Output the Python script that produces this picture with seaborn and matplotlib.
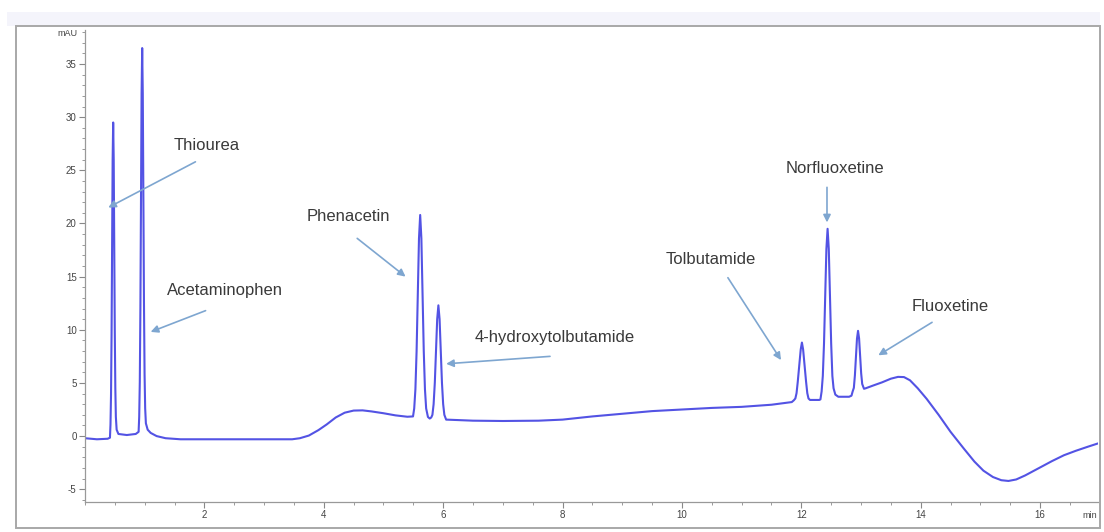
import numpy as np
import matplotlib
matplotlib.use('Agg')
import matplotlib.pyplot as plt
from matplotlib.patches import Rectangle
from matplotlib.ticker import MultipleLocator
import seaborn as sns
import pandas as pd

# trace (time in min, signal in mAU)
time_min = [0.00, 0.20, 0.38,
            0.418, 0.427, 0.436, 0.445, 0.454, 0.463, 0.472, 0.481, 0.49, 0.499, 0.508, 0.517, 0.53, 0.56,
            0.70, 0.85,
            0.898, 0.908, 0.918, 0.928, 0.938, 0.948, 0.958, 0.968, 0.978, 0.988, 0.998, 1.008, 1.02, 1.05,
            1.10, 1.20, 1.35, 1.60,
            2.50, 3.47, 3.60, 3.75, 3.91, 4.05, 4.20, 4.35, 4.50, 4.65, 4.80, 5.00, 5.20, 5.40,
            5.495, 5.515, 5.535, 5.555, 5.575, 5.595, 5.615, 5.635, 5.655, 5.675, 5.695, 5.715, 5.745,
            5.775, 5.80, 5.82, 5.84, 5.86, 5.88, 5.90, 5.92, 5.94, 5.96, 5.98, 6.00, 6.02, 6.05,
            6.50, 7.00, 7.60, 8.00, 8.50, 9.00, 9.50, 10.00, 10.50, 11.00, 11.50, 11.84,
            11.875, 11.90, 11.92, 11.94, 11.965, 11.99, 12.01, 12.03, 12.055, 12.08, 12.10, 12.12, 12.145,
            12.30, 12.32, 12.34, 12.36, 12.38, 12.40, 12.42, 12.44, 12.46, 12.48, 12.50, 12.52, 12.54,
            12.57, 12.62, 12.80,
            12.84, 12.86, 12.88, 12.8975, 12.915, 12.9325, 12.95, 12.9675, 12.985, 13.0025, 13.02, 13.05,
            13.08, 13.20, 13.35, 13.50, 13.62, 13.72, 13.82, 13.95, 14.10, 14.30, 14.50, 14.72, 14.90,
            15.05, 15.21, 15.35, 15.47, 15.60, 15.75, 16.00, 16.20, 16.40, 16.60, 16.80, 16.97]
signal_mau = [-0.20, -0.30, -0.25,
              -0.15, 1.1, 3.9, 9.5, 17.8, 26.0, 29.5, 26.0, 17.8, 9.8, 4.5, 1.8, 0.6, 0.2,
              0.1, 0.2,
              0.4, 1.8, 5.1, 12.0, 22.2, 32.2, 36.5, 32.2, 22.5, 12.5, 5.8, 2.6, 1.2, 0.6,
              0.3, 0.0, -0.2, -0.3,
              -0.3, -0.3, -0.2, 0.05, 0.56, 1.1, 1.75, 2.2, 2.4, 2.42, 2.32, 2.15, 1.95, 1.82,
              1.85, 2.6, 4.4, 8.0, 13.3, 18.6, 20.8, 18.6, 13.3, 8.0, 4.4, 2.6, 1.8,
              1.65, 1.75, 2.0, 3.0, 5.0, 8.0, 11.0, 12.3, 11.0, 8.0, 5.0, 3.0, 2.0, 1.55,
              1.45, 1.42, 1.45, 1.55, 1.85, 2.1, 2.35, 2.5, 2.65, 2.75, 2.95, 3.2,
              3.37, 3.54, 4.04, 5.09, 6.64, 8.15, 8.8, 8.15, 6.64, 5.09, 4.04, 3.54, 3.4,
              3.4, 3.45, 4.2, 5.66, 8.7, 13.2, 17.6, 19.5, 17.6, 13.2, 8.7, 5.66, 4.5,
              3.9, 3.7, 3.7,
              3.8, 4.2, 4.54, 5.71, 7.46, 9.17, 9.9, 9.2, 7.6, 5.9, 4.9, 4.45,
              4.5, 4.75, 5.05, 5.4, 5.57, 5.55, 5.25, 4.5, 3.5, 2.0, 0.4, -1.16, -2.4,
              -3.25, -3.85, -4.15, -4.22, -4.08, -3.7, -2.95, -2.35, -1.8, -1.38, -1.0, -0.69]

# peak labels: name, text anchor (t, mAU), arrow tail, arrow head
peak_names = ['Thiourea', 'Acetaminophen', 'Phenacetin', '4-hydroxytolbutamide',
              'Tolbutamide', 'Norfluoxetine', 'Fluoxetine']
label_pos = [(1.48, 27.3), (1.38, 13.7), (3.72, 20.7), (6.52, 9.3),
             (9.72, 16.65), (11.73, 25.2), (13.84, 12.2)]
arrow_tail = [(1.85, 25.8), (2.02, 11.8), (4.56, 18.6), (7.79, 7.5),
              (10.77, 14.9), (12.43, 23.4), (14.19, 10.7)]
arrow_head = [(0.39, 21.5), (1.10, 9.8), (5.37, 15.0), (6.05, 6.8),
              (11.66, 7.15), (12.43, 20.1), (13.29, 7.6)]

sns.set_style('ticks')
plt.rcParams['font.family'] = ['Liberation Sans', 'DejaVu Sans']
plt.rcParams['axes.unicode_minus'] = False

fig = plt.figure(figsize=(11.04, 5.32), dpi=100)
ax = fig.add_axes([85 / 1104, 1 - 502 / 532, (1098 - 85) / 1104, (502 - 30) / 532])

df = pd.DataFrame({'time': time_min, 'signal': signal_mau})
sns.lineplot(data=df, x='time', y='signal', ax=ax, color='#5353e4', linewidth=1.5,
             estimator=None, sort=False)

ax.set_xlim(0, 16.97)
ax.set_ylim(-6.2, 38.2)
ax.set_xlabel('')
ax.set_ylabel('')

ax.xaxis.set_major_locator(MultipleLocator(2))
ax.xaxis.set_minor_locator(MultipleLocator(0.5))
ax.yaxis.set_major_locator(MultipleLocator(5))
ax.yaxis.set_minor_locator(MultipleLocator(1))
ax.set_xticks([2, 4, 6, 8, 10, 12, 14, 16])
ax.set_yticks([-5, 0, 5, 10, 15, 20, 25, 30, 35])
ax.tick_params(which='major', length=4, width=0.8, color='#888888', labelsize=7,
               labelcolor='#444444', pad=2)
ax.tick_params(which='minor', length=2.2, width=0.7, color='#999999')

for side in ['top', 'right']:
    ax.spines[side].set_visible(False)
for side in ['left', 'bottom']:
    ax.spines[side].set_color('#999999')
    ax.spines[side].set_linewidth(0.9)

fig.text(78 / 1104, 1 - 33 / 532, 'mAU', ha='right', va='center', fontsize=6.5, color='#444444')
fig.text(1090 / 1104, 1 - 516 / 532, 'min', ha='center', va='center', fontsize=6.5, color='#444444')

for name, pos, tail, head in zip(peak_names, label_pos, arrow_tail, arrow_head):
    ax.text(pos[0], pos[1], name, ha='left', va='center', fontsize=12, color='#3a3a3a')
    ax.annotate('', xy=head, xytext=tail,
                arrowprops=dict(arrowstyle='-|>', color='#7ea6d0', lw=1.2, mutation_scale=11,
                                shrinkA=0, shrinkB=0))

# outer panel frame
fig.add_artist(Rectangle((7 / 1104, 1 - 26 / 532), 1093 / 1104, 14 / 532,
                         transform=fig.transFigure, facecolor='#f4f4fb', edgecolor='none', zorder=-1))
fig.add_artist(Rectangle((16 / 1104, 1 - 528 / 532), (1100 - 16) / 1104, (528 - 26) / 532,
                         transform=fig.transFigure, facecolor='none', edgecolor='#a8a8a8', lw=1.4))

fig.savefig('out.png', dpi=100)
